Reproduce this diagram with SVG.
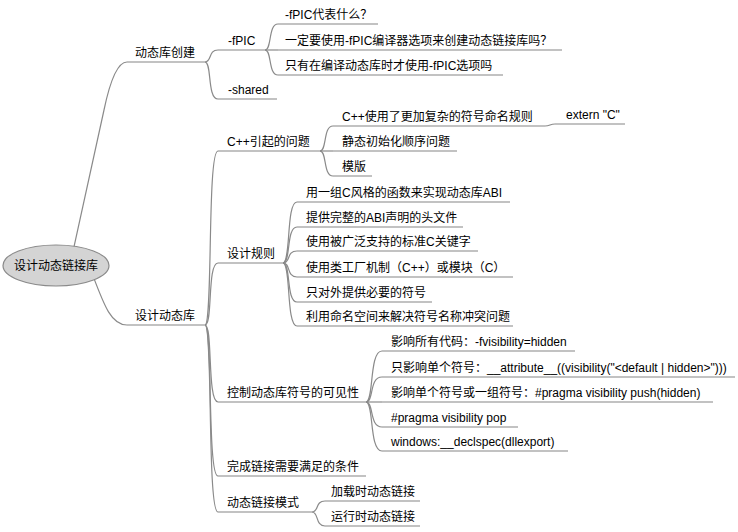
<svg xmlns="http://www.w3.org/2000/svg" width="738" height="532" viewBox="0 0 738 532">
<style>
.t{font-family:"Liberation Sans","Noto Sans CJK SC",sans-serif;font-size:12px;fill:#000}
.u{stroke:#858585;stroke-width:1.2;fill:none}
.c{stroke:#8a8a8a;stroke-width:1.2;fill:none}
</style>
<rect width="738" height="532" fill="#fff"/>
<g id="connectors">
<path class="c" d="M70 265 L104 110 Q114 62 127 62"/>
<path class="c" d="M90 268 C103 302 110 325 127 325"/>
<path class="c" d="M205 62 C212 62 208 50 218 50"/>
<path class="c" d="M205 62 C212 62 207 99 218 99"/>
<path class="c" d="M265 50 C272 50 268 24 278 24"/>
<path class="c" d="M265 50 L278 50"/>
<path class="c" d="M265 50 C272 50 268 75 278 75"/>
<path class="c" d="M205 325 C213 325 207 151 218 151"/>
<path class="c" d="M205 325 C213 325 207 263 218 263"/>
<path class="c" d="M205 325 C213 325 207 402 218 402"/>
<path class="c" d="M205 325 C213 325 207 476 218 476"/>
<path class="c" d="M205 325 C213 325 207 512 218 512"/>
<path class="c" d="M320 151 C327 151 323 126 333 126"/>
<path class="c" d="M320 151 L333 151"/>
<path class="c" d="M320 151 C327 151 323 176 333 176"/>
<path class="c" d="M545 126 C550 126 550 124 555 124"/>
<path class="c" d="M283 263 C291 263 286 202 297 202"/>
<path class="c" d="M283 263 C291 263 286 227 297 227"/>
<path class="c" d="M283 263 C291 263 286 251 297 251"/>
<path class="c" d="M283 263 C291 263 286 277 297 277"/>
<path class="c" d="M283 263 C291 263 286 302 297 302"/>
<path class="c" d="M283 263 C291 263 286 326 297 326"/>
<path class="c" d="M366 402 C374 402 369 351 382 351"/>
<path class="c" d="M366 402 C374 402 369 377 382 377"/>
<path class="c" d="M366 402 L382 402"/>
<path class="c" d="M366 402 C374 402 369 427 382 427"/>
<path class="c" d="M366 402 C374 402 369 451 382 451"/>
<path class="c" d="M312 512 C319 512 315 501 325 501"/>
<path class="c" d="M312 512 C319 512 315 526 325 526"/>
</g>
<g id="root">
<ellipse cx="56" cy="265.5" rx="53" ry="20.5" fill="#d4d4d4" stroke="#8a8a8a" stroke-width="1.2"/>
<text class="t" x="56" y="269.5" text-anchor="middle">设计动态链接库</text>
</g>
<g id="n1"><line class="u" x1="127" y1="62" x2="205" y2="62"/><text class="t" x="135" y="57">动态库创建</text></g>
<g id="n1a"><line class="u" x1="218" y1="50" x2="265" y2="50"/><text class="t" x="228" y="45">-fPIC</text></g>
<g id="n1a1"><line class="u" x1="278" y1="24" x2="378" y2="24"/><text class="t" x="285" y="19">-fPIC代表什么？</text></g>
<g id="n1a2"><line class="u" x1="278" y1="50" x2="562" y2="50"/><text class="t" x="285" y="45">一定要使用-fPIC编译器选项来创建动态链接库吗？</text></g>
<g id="n1a3"><line class="u" x1="278" y1="75" x2="503" y2="75"/><text class="t" x="285" y="70">只有在编译动态库时才使用-fPIC选项吗</text></g>
<g id="n1b"><line class="u" x1="218" y1="99" x2="277" y2="99"/><text class="t" x="228" y="94">-shared</text></g>
<g id="n2"><line class="u" x1="127" y1="325" x2="205" y2="325"/><text class="t" x="135" y="320">设计动态库</text></g>
<g id="n2a"><line class="u" x1="218" y1="151" x2="320" y2="151"/><text class="t" x="227" y="146">C++引起的问题</text></g>
<g id="n2a1"><line class="u" x1="333" y1="126" x2="545" y2="126"/><text class="t" x="342" y="121">C++使用了更加复杂的符号命名规则</text></g>
<g id="n2a1a"><line class="u" x1="555" y1="124" x2="625" y2="124"/><text class="t" x="566" y="119">extern "C"</text></g>
<g id="n2a2"><line class="u" x1="333" y1="151" x2="457" y2="151"/><text class="t" x="342" y="146">静态初始化顺序问题</text></g>
<g id="n2a3"><line class="u" x1="333" y1="176" x2="372" y2="176"/><text class="t" x="342" y="171">模版</text></g>
<g id="n2b"><line class="u" x1="218" y1="263" x2="283" y2="263"/><text class="t" x="227" y="258">设计规则</text></g>
<g id="n2b1"><line class="u" x1="297" y1="202" x2="510" y2="202"/><text class="t" x="306" y="197">用一组C风格的函数来实现动态库ABI</text></g>
<g id="n2b2"><line class="u" x1="297" y1="227" x2="463" y2="227"/><text class="t" x="306" y="222">提供完整的ABI声明的头文件</text></g>
<g id="n2b3"><line class="u" x1="297" y1="251" x2="478" y2="251"/><text class="t" x="306" y="246">使用被广泛支持的标准C关键字</text></g>
<g id="n2b4"><line class="u" x1="297" y1="277" x2="513" y2="277"/><text class="t" x="306" y="272">使用类工厂机制（C++）或模块（C）</text></g>
<g id="n2b5"><line class="u" x1="297" y1="302" x2="432" y2="302"/><text class="t" x="306" y="297">只对外提供必要的符号</text></g>
<g id="n2b6"><line class="u" x1="297" y1="326" x2="513" y2="326"/><text class="t" x="306" y="321">利用命名空间来解决符号名称冲突问题</text></g>
<g id="n2c"><line class="u" x1="218" y1="402" x2="366" y2="402"/><text class="t" x="227" y="397">控制动态库符号的可见性</text></g>
<g id="n2c1"><line class="u" x1="382" y1="351" x2="575" y2="351"/><text class="t" x="391" y="346">影响所有代码：-fvisibility=hidden</text></g>
<g id="n2c2"><line class="u" x1="382" y1="377" x2="735" y2="377"/><text class="t" x="391" y="372">只影响单个符号：__attribute__((visibility("&lt;default | hidden&gt;")))</text></g>
<g id="n2c3"><line class="u" x1="382" y1="402" x2="713" y2="402"/><text class="t" x="391" y="397">影响单个符号或一组符号：#pragma visibility push(hidden)</text></g>
<g id="n2c4"><line class="u" x1="382" y1="427" x2="518" y2="427"/><text class="t" x="391" y="422">#pragma visibility pop</text></g>
<g id="n2c5"><line class="u" x1="382" y1="451" x2="568" y2="451"/><text class="t" x="391" y="446">windows:__declspec(dllexport)</text></g>
<g id="n2d"><line class="u" x1="218" y1="476" x2="366" y2="476"/><text class="t" x="227" y="471">完成链接需要满足的条件</text></g>
<g id="n2e"><line class="u" x1="218" y1="512" x2="312" y2="512"/><text class="t" x="227" y="507">动态链接模式</text></g>
<g id="n2e1"><line class="u" x1="325" y1="501" x2="420" y2="501"/><text class="t" x="331" y="496">加载时动态链接</text></g>
<g id="n2e2"><line class="u" x1="325" y1="526" x2="420" y2="526"/><text class="t" x="331" y="521">运行时动态链接</text></g>
</svg>
